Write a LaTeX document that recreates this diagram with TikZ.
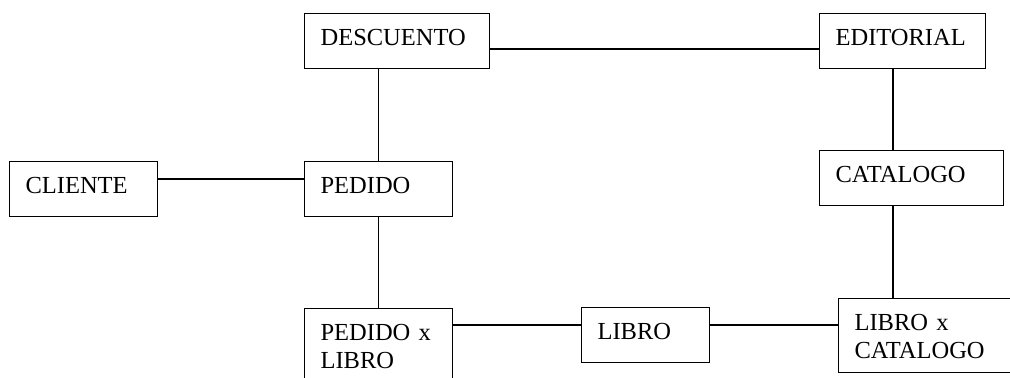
\documentclass[tikz,border=0pt]{standalone}
\usepackage{fontspec}
\setmainfont{Liberation Serif}
\begin{document}
\begin{tikzpicture}[x=.5pt,y=-.5pt,line width=.6pt,
  ent/.style={draw,anchor=north west,align=left,inner xsep=8pt,inner ysep=4pt,text height=12pt,text depth=7.5pt,font=\fontsize{12.25}{14}\selectfont},
  ent2/.style={ent,text depth=17pt}]
\useasboundingbox (0,0) rectangle (1010,377);
\node[ent,text width=76.5pt] (desc) at (304,12.7) {DESCUENTO};\node[ent,text width=67pt] (edit) at (819,12.7) {EDITORIAL};
\node[ent,text width=58pt] (clie) at (9,161) {CLIENTE};\node[ent,text width=58pt] (ped) at (304,161) {PEDIDO};\node[ent,text width=76pt] (cat) at (819,150) {CATALOGO};
\node[ent2,text width=58pt] (pxl) at (304,308) {PEDIDO x\\LIBRO};\node[ent,text width=48pt] (lib) at (581,307) {LIBRO};\node[ent2,text width=71.5pt] (lxc) at (838,298) {LIBRO x\\CATALOGO};
\coordinate (h1) at (0,49);\coordinate (h2) at (0,179);\coordinate (h3) at (0,325);\coordinate (v1) at (893,0);
\draw (desc.east |- h1)--(edit.west |- h1) (desc.south -| ped.north)--(ped.north) (clie.east |- h2)--(ped.west |- h2) (ped.south)--(pxl.north)
  (edit.south -| v1)--(cat.north -| v1) (cat.south -| v1)--(lxc.north -| v1) (pxl.east |- h3)--(lib.west |- h3) (lib.east |- h3)--(lxc.west |- h3);
\end{tikzpicture}
\end{document}
